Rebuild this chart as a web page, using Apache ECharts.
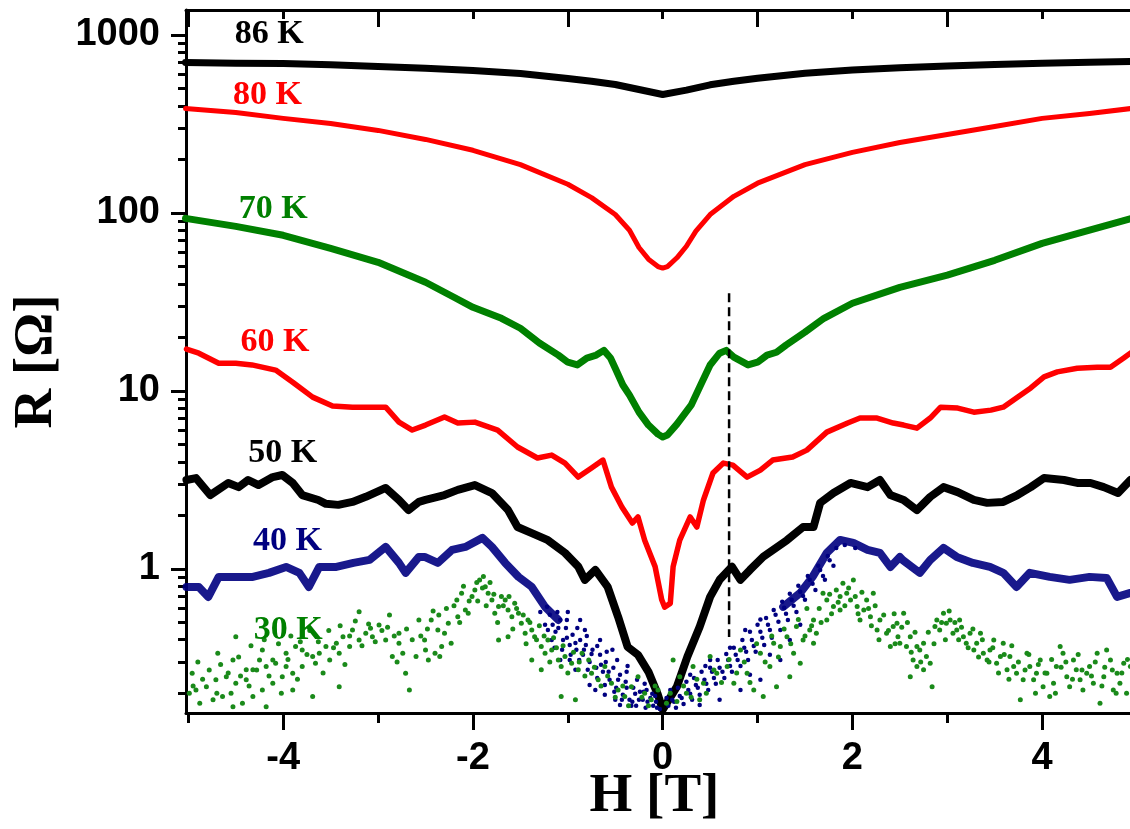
<!DOCTYPE html>
<html>
<head>
<meta charset="utf-8">
<script src="https://cdn.jsdelivr.net/npm/echarts@6/dist/echarts.min.js"></script>
<style>
html,body{margin:0;padding:0;background:#fff}
#chart{width:1130px;height:829px}
</style>
</head>
<body>
<div id="chart"></div>
<script>
// Magnetoresistance R(H) measured at fixed temperatures; pairs are [H (T), R (ohm)].
const sweep86K = [[-5.03,700],[-4.5,695],[-4,691],[-3.5,680],[-3,665],[-2.5,650],[-2,631],[-1.5,607],[-1,569],[-0.75,550],[-0.5,527],[-0.25,494],[0,463],[0.25,490],[0.5,525],[0.75,550],[1,572],[1.5,610],[2,635],[2.5,655],[3,670],[3.5,683],[4,694],[4.5,703],[5,712]];

const sweep80K = [[-5.03,386],[-4.5,367],[-4,340],[-3.5,318],[-3,291],[-2.5,259],[-2,225],[-1.5,187],[-1,145],[-0.75,122],[-0.5,98],[-0.35,80],[-0.25,64],[-0.15,55],[-0.05,50],[0,49],[0.05,50],[0.15,56],[0.25,65],[0.35,79],[0.5,98],[0.75,124],[1,147],[1.5,187],[2,219],[2.5,249],[3,276],[3.5,306],[4,340],[4.5,362],[5,390]];

const sweep70K = [[-5.03,93.3],[-4.5,84.1],[-4,74.9],[-3.5,63.3],[-3,52.8],[-2.5,40.8],[-2.2,33.6],[-2,29.5],[-1.7,25.6],[-1.5,22.5],[-1.3,18.6],[-1.1,15.9],[-1,14.5],[-0.9,14.0],[-0.8,15.3],[-0.7,15.9],[-0.62,16.9],[-0.55,15.3],[-0.5,13.4],[-0.42,10.8],[-0.35,9.47],[-0.25,7.6],[-0.15,6.43],[-0.05,5.72],[0,5.51],[0.05,5.65],[0.15,6.51],[0.3,8.32],[0.4,10.8],[0.5,14.0],[0.6,16.3],[0.67,16.9],[0.75,15.5],[0.9,14.0],[1,14.5],[1.1,15.9],[1.2,16.5],[1.3,18.1],[1.5,21.4],[1.7,25.6],[2,31.1],[2.5,38.2],[3,44.7],[3.5,54.2],[4,67.5],[4.5,80],[5,95]];

const sweep60K = [[-5.02,17.2],[-4.89,16.3],[-4.68,14.3],[-4.5,14.3],[-4.33,14.0],[-4.08,13.1],[-3.9,11.2],[-3.69,9.23],[-3.48,8.22],[-3.27,8.11],[-3.06,8.11],[-2.92,8.11],[-2.78,6.68],[-2.64,6.03],[-2.5,6.43],[-2.3,7.13],[-2.16,6.6],[-1.98,6.68],[-1.74,6.03],[-1.53,4.84],[-1.32,4.2],[-1.17,4.36],[-1.03,3.93],[-0.89,3.28],[-0.75,3.69],[-0.63,4.09],[-0.54,2.88],[-0.43,2.23],[-0.32,1.81],[-0.26,1.96],[-0.19,1.45],[-0.08,1.03],[-0.01,0.67],[0.02,0.61],[0.08,0.64],[0.11,1.03],[0.18,1.45],[0.29,1.96],[0.36,1.72],[0.43,2.44],[0.53,3.46],[0.64,3.93],[0.74,3.83],[0.89,3.28],[1.03,3.59],[1.16,4.09],[1.37,4.25],[1.52,4.65],[1.73,5.87],[1.95,6.6],[2.08,7.04],[2.26,7.04],[2.43,6.6],[2.54,6.43],[2.68,6.18],[2.82,7.04],[2.93,8.11],[3.11,8.01],[3.28,7.6],[3.46,7.8],[3.59,8.11],[3.74,9.23],[3.88,10.4],[4.02,12.0],[4.16,12.8],[4.37,13.4],[4.58,13.6],[4.72,13.6],[4.86,15.3],[4.93,16.3]];

const sweep50K = [[-5.02,3.16],[-4.92,3.24],[-4.77,2.6],[-4.58,3.04],[-4.47,2.88],[-4.37,3.16],[-4.26,2.96],[-4.11,3.28],[-4.01,3.37],[-3.9,3.04],[-3.8,2.6],[-3.63,2.44],[-3.55,2.32],[-3.42,2.29],[-3.27,2.38],[-3.13,2.54],[-2.92,2.85],[-2.78,2.44],[-2.68,2.14],[-2.57,2.38],[-2.5,2.44],[-2.3,2.6],[-2.16,2.78],[-1.98,2.96],[-1.8,2.67],[-1.63,2.14],[-1.53,1.72],[-1.38,1.59],[-1.21,1.45],[-1.03,1.23],[-0.89,1.03],[-0.82,0.868],[-0.71,0.987],[-0.58,0.793],[-0.47,0.538],[-0.37,0.365],[-0.26,0.329],[-0.15,0.264],[-0.05,0.196],[0,0.162],[0.15,0.218],[0.26,0.321],[0.39,0.473],[0.5,0.696],[0.6,0.868],[0.73,1.03],[0.82,0.868],[0.92,0.987],[1.06,1.17],[1.31,1.45],[1.48,1.72],[1.59,1.72],[1.66,2.35],[1.8,2.67],[1.98,3.04],[2.16,2.88],[2.29,3.16],[2.4,2.6],[2.54,2.44],[2.68,2.14],[2.82,2.54],[2.96,2.88],[3.11,2.7],[3.28,2.44],[3.42,2.35],[3.59,2.38],[3.74,2.6],[3.88,2.88],[4.02,3.24],[4.23,3.16],[4.37,3.04],[4.51,3.04],[4.65,2.88],[4.8,2.67],[4.93,3.16]];

// 40 K: the two flanks are traced as bands, the low-field part is a cloud of points
const sweep40KNeg = [[-5.02,0.792],[-4.89,0.792],[-4.79,0.696],[-4.68,0.902],[-4.5,0.902],[-4.32,0.902],[-4.15,0.95],[-3.97,1.026],[-3.83,0.95],[-3.73,0.792],[-3.62,1.026],[-3.44,1.026],[-3.26,1.081],[-3.09,1.123],[-2.92,1.329],[-2.78,1.081],[-2.71,0.95],[-2.57,1.168],[-2.51,1.168],[-2.37,1.081],[-2.22,1.279],[-2.08,1.329],[-1.9,1.494],[-1.8,1.329],[-1.66,1.081],[-1.52,0.902],[-1.38,0.792],[-1.24,0.612],[-1.1,0.517]];
const sweep40KPos = [[1.27,0.612],[1.45,0.733],[1.58,0.902],[1.73,1.23],[1.87,1.455],[2.01,1.4],[2.16,1.279],[2.29,1.23],[2.4,1.026],[2.5,1.168],[2.53,1.123],[2.71,0.95],[2.82,1.123],[2.96,1.312],[3.1,1.168],[3.27,1.081],[3.45,1.026],[3.59,0.95],[3.73,0.792],[3.87,0.95],[4.08,0.902],[4.29,0.868],[4.5,0.902],[4.68,0.89],[4.79,0.696],[4.93,0.733]];
const points40K = [
[-1.19,0.552],[-1.16,0.485],[-1.13,0.443],[-1.08,0.517],[-1.05,0.399],[-1.02,0.466],[-0.98,0.374],[-0.95,0.426],[-0.91,0.351],[-0.87,0.399],
[-0.84,0.329],[-0.81,0.374],[-0.77,0.3],[-0.74,0.351],[-0.7,0.278],[-0.66,0.329],[-0.63,0.264],[-0.6,0.3],[-0.56,0.238],[-0.52,0.278],
[-0.49,0.215],[-0.45,0.254],[-0.42,0.196],[-0.39,0.232],[-0.35,0.184],[-0.31,0.215],[-0.28,0.17],[-0.24,0.204],[-0.21,0.184],[-0.18,0.166],
[-0.13,0.188],[-0.1,0.17],[-0.07,0.179],[-0.03,0.163],[-1.08,0.308],[-0.92,0.271],[-0.77,0.223],[-0.61,0.196],[-0.45,0.172],[-0.82,0.454],
[-0.66,0.399],[-1.24,0.485],[-1.29,0.573],[-1.0,0.573],[-0.87,0.517],[-0.53,0.351],[-0.37,0.285],[-0.19,0.226],[-0.5,0.184],[-0.71,0.209],
[-0.32,0.179],[-1.14,0.36],[-0.98,0.308],
[-1.21,0.454],[-1.17,0.399],[-1.1,0.466],[-1.06,0.351],[-1.01,0.41],[-0.97,0.329],[-0.92,0.384],[-0.88,0.308],[-0.83,0.351],[-0.79,0.271],
[-0.75,0.333],[-0.69,0.244],[-0.65,0.289],[-0.61,0.223],[-0.57,0.264],[-0.51,0.204],[-0.47,0.238],[-0.43,0.184],[-0.38,0.215],[-0.33,0.17],
[-0.29,0.199],[-0.25,0.184],[-0.2,0.204],[-0.16,0.179],[-0.11,0.199],[-0.06,0.166],[-1.22,0.612],[-1.11,0.573],[-1.01,0.517],[-0.9,0.466],
[-0.8,0.42],[-0.69,0.369],[-0.59,0.342],[-0.48,0.308],[-0.38,0.264],[-0.27,0.238],[-0.17,0.209],[-0.08,0.193],
[0.06,0.17],[0.1,0.184],[0.14,0.166],[0.18,0.193],[0.22,0.174],[0.27,0.209],[0.31,0.184],[0.35,0.223],[0.39,0.196],[0.44,0.238],
[0.48,0.209],[0.52,0.264],[0.56,0.226],[0.6,0.278],[0.65,0.244],[0.69,0.308],[0.73,0.264],[0.77,0.329],[0.82,0.285],[0.86,0.36],
[0.9,0.308],[0.94,0.399],[0.98,0.342],[1.03,0.443],[1.07,0.374],[1.11,0.485],[1.15,0.41],[1.19,0.552],[1.24,0.454],[1.28,0.604],
[1.32,0.517],[1.36,0.67],[1.41,0.573],[1.45,0.743],[1.5,0.67],[1.55,0.868],[1.61,0.762],[1.66,0.987],[1.71,0.868],[1.76,1.12],
[0.39,0.172],[0.6,0.184],[0.82,0.209],[1.03,0.238],[1.24,0.308],[0.5,0.308],[0.71,0.36],[0.92,0.254],[1.13,0.329],[1.34,0.399],
[1.45,0.485],[0.29,0.254],[0.45,0.285],[1.03,0.52],[0.87,0.454],
[0.04,0.188],[0.08,0.209],[0.12,0.179],[0.16,0.215],[0.2,0.188],[0.25,0.232],[0.29,0.199],[0.33,0.244],[0.37,0.215],[0.41,0.264],
[0.46,0.226],[0.5,0.278],[0.54,0.244],[0.58,0.308],[0.63,0.264],[0.67,0.333],[0.71,0.285],[0.75,0.36],[0.79,0.308],[0.84,0.399],
[0.88,0.342],[0.92,0.443],[0.96,0.369],[1.0,0.485],[1.05,0.41],[1.09,0.53],[1.13,0.454],[1.17,0.588],[1.22,0.504],[1.26,0.653],
[1.3,0.559],[1.34,0.724],[1.38,0.62],[1.43,0.803],[1.48,0.705],[1.53,0.913],[1.58,0.824],[1.64,1.04],[1.69,0.913],[1.74,1.183],
[1.8,1.04],[1.83,1.312],[1.92,1.364],[2.03,1.312]
];

const points30K = [
[-3.2,0.575],[-2.88,0.551],[-2.99,0.484],[-3.08,0.464],[-3.13,0.435],[-3.27,0.454],[-3.37,0.416],[-3.44,0.382],[-3.55,0.366],[-3.62,0.336],
[-3.69,0.322],[-3.8,0.35],[-3.87,0.366],[-3.97,0.336],[-4.08,0.295],[-4.18,0.283],[-4.25,0.308],[-4.32,0.271],[-4.39,0.238],[-4.5,0.228],
[-4.6,0.248],[-4.71,0.238],[-4.81,0.218],[-4.92,0.209],[-4.99,0.2],[-4.88,0.176],[-4.74,0.184],[-4.64,0.192],[-4.53,0.168],[-4.43,0.176],
[-4.32,0.192],[-4.22,0.209],[-4.11,0.228],[-4.01,0.248],[-3.9,0.259],[-3.8,0.283],[-3.66,0.295],[-3.51,0.308],[-3.41,0.336],[-3.3,0.366],
[-3.2,0.399],[-3.06,0.416],[-2.92,0.399],[-2.78,0.382],[-2.71,0.259],[-2.67,0.209],[-2.78,0.435],[-2.57,0.517],[-2.5,0.35],[-2.6,0.322],
[-2.74,0.336],[-2.85,0.322],[-3.41,0.218],[-3.69,0.192],[-3.9,0.209],[-4.18,0.168],[-4.96,0.259],[-4.69,0.336],[-4.5,0.416],[-4.22,0.35],
[-4.11,0.308],[-3.97,0.283],[-4.39,0.271],[-4.53,0.308],
[-4.95,0.22],[-4.9,0.3],[-4.85,0.24],[-4.78,0.27],[-4.7,0.2],[-4.66,0.29],[-4.58,0.26],[-4.55,0.2],[-4.47,0.32],[-4.45,0.25],
[-4.36,0.22],[-4.34,0.37],[-4.28,0.27],[-4.2,0.4],[-4.15,0.25],[-4.05,0.38],[-4.02,0.2],[-3.95,0.31],[-3.92,0.42],[-3.85,0.24],
[-3.82,0.39],[-3.75,0.33],[-3.72,0.45],[-3.63,0.39],[-3.58,0.26],[-3.52,0.45],[-3.47,0.36],[-3.4,0.48],[-3.35,0.29],[-3.3,0.42],
[-3.24,0.51],[-3.17,0.37],[-3.1,0.49],[-3.03,0.39],[-2.96,0.45],[-2.9,0.47],[-2.83,0.42],[-2.8,0.3],[-2.7,0.46],[-2.64,0.4],
[-2.55,0.42],[-2.48,0.46],
[-2.51,0.399],[-2.44,0.517],[-2.37,0.454],[-2.3,0.435],[-2.26,0.495],[-2.33,0.366],[-2.4,0.336],[-2.47,0.308],[-2.35,0.322],[-2.23,0.382],
[-2.16,0.539],[-2.17,0.669],[-2.12,0.73],[-2.08,0.588],[-2.05,0.563],[-2.01,0.699],[-1.98,0.762],[-1.93,0.867],[-1.89,0.905],[-1.87,0.795],
[-1.84,0.73],[-1.8,0.669],[-1.77,0.563],[-1.73,0.614],[-1.7,0.699],[-1.66,0.669],[-1.63,0.588],[-1.59,0.539],[-1.56,0.641],[-1.52,0.563],
[-1.49,0.495],[-1.45,0.435],[-1.42,0.517],[-1.38,0.454],[-1.35,0.416],[-1.28,0.366],[-1.24,0.336],[-1.21,0.399],[-1.17,0.35],[-1.1,0.308],
[-1.07,0.283],[-1.03,0.322],[-0.96,0.295],[-0.89,0.271],[-0.85,0.336],[-0.78,0.308],[-0.75,0.259],[-0.68,0.238],[-0.61,0.283],[-0.54,0.228],
[-0.47,0.209],[-0.4,0.192],[-0.33,0.218],[-0.26,0.248],[-0.19,0.2],[-0.12,0.184],[-0.05,0.209],[-1.07,0.192],[-0.92,0.184],[-1.38,0.308],
[-1.28,0.271],[-1.63,0.416],[-1.73,0.399],
[-2.42,0.58],[-2.36,0.55],[-2.28,0.6],[-2.2,0.62],[-2.14,0.5],[-2.1,0.8],[-2.04,0.66],[-1.96,0.84],[-1.95,0.66],[-1.9,0.78],
[-1.86,0.62],[-1.82,0.84],[-1.78,0.72],[-1.74,0.5],[-1.68,0.62],[-1.62,0.7],[-1.58,0.46],[-1.54,0.6],[-1.47,0.55],[-1.44,0.38],
[-1.4,0.5],[-1.33,0.4],[-1.3,0.48],[-1.25,0.42],[-1.19,0.3],[-1.15,0.41],[-1.12,0.36],[-1.05,0.37],[-1.0,0.26],[-0.94,0.34],
[-0.88,0.3],[-0.82,0.25],[-0.72,0.28],[-0.65,0.22],[-0.58,0.25],[-0.5,0.19],[-0.42,0.22],[-0.36,0.17],[-0.22,0.19],[-0.15,0.17],
[-0.08,0.22],
[0.11,0.308],[0.18,0.248],[0.32,0.283],[0.43,0.228],[0.5,0.322],[0.57,0.259],[0.68,0.283],[0.75,0.228],[0.82,0.35],[0.89,0.259],
[0.96,0.209],[1.03,0.336],[1.06,0.192],[1.13,0.283],[1.17,0.382],[1.24,0.366],[1.31,0.416],[1.38,0.336],[1.41,0.474],[1.48,0.399],
[1.55,0.454],[1.59,0.517],[1.62,0.435],[1.69,0.73],[1.73,0.669],[1.8,0.614],[1.83,0.762],[1.87,0.699],[1.9,0.83],[1.94,0.73],
[1.98,0.669],[2.01,0.867],[2.05,0.614],[2.08,0.517],[2.12,0.588],[2.15,0.669],[2.19,0.539],[2.22,0.73],[2.26,0.454],[2.29,0.517],
[2.36,0.435],[2.4,0.366],[2.43,0.474],[2.48,0.416],[1.87,0.588],[1.73,0.517],[1.59,0.382],[1.45,0.295],[1.34,0.248],[1.2,0.218],
[0.39,0.184],[0.25,0.2],[0.04,0.176],
[0.08,0.2],[0.15,0.18],[0.22,0.22],[0.3,0.19],[0.36,0.24],[0.46,0.2],[0.54,0.27],[0.62,0.23],[0.7,0.31],[0.78,0.26],
[0.86,0.3],[0.92,0.23],[0.99,0.38],[1.08,0.3],[1.15,0.42],[1.22,0.32],[1.28,0.46],[1.35,0.38],[1.43,0.52],[1.5,0.42],
[1.52,0.6],[1.57,0.48],[1.65,0.6],[1.67,0.5],[1.76,0.72],[1.78,0.56],[1.85,0.65],[1.92,0.62],[1.96,0.78],[2.03,0.7],
[2.06,0.56],[2.1,0.74],[2.17,0.6],[2.2,0.48],[2.24,0.62],[2.28,0.4],[2.33,0.55],[2.38,0.45],[2.44,0.56],[2.45,0.38],
[2.47,0.495],[2.54,0.563],[2.5,0.382],[2.57,0.366],[2.61,0.416],[2.64,0.308],[2.68,0.366],[2.71,0.35],[2.75,0.382],[2.78,0.322],
[2.82,0.295],[2.84,0.218],[2.75,0.271],[2.68,0.283],[2.61,0.248],[2.87,0.474],[2.89,0.517],[2.92,0.454],[2.96,0.563],[2.99,0.495],
[3.03,0.517],[3.06,0.435],[3.1,0.454],[3.13,0.517],[3.17,0.416],[3.2,0.382],[3.24,0.435],[3.28,0.35],[3.31,0.382],[3.35,0.435],
[3.38,0.336],[3.42,0.308],[3.45,0.35],[3.49,0.399],[3.52,0.295],[3.56,0.322],[3.59,0.382],[3.63,0.271],[3.66,0.322],[3.7,0.283],
[3.73,0.259],[3.77,0.184],[3.8,0.238],[3.84,0.336],[3.87,0.283],[3.91,0.238],[3.94,0.259],[3.98,0.308],[4.01,0.218],[4.05,0.259],
[4.08,0.192],[4.12,0.228],[4.15,0.283],[4.19,0.366],[4.22,0.336],[4.26,0.248],[4.29,0.218],[4.33,0.308],[4.36,0.271],[4.4,0.238],
[4.43,0.209],[4.47,0.259],[4.5,0.283],[4.54,0.228],[4.58,0.336],[4.61,0.176],[4.65,0.248],[4.68,0.35],[4.72,0.308],[4.75,0.209],
[4.79,0.259],[4.82,0.228],[4.86,0.295],[4.89,0.2],[4.93,0.283],
[2.52,0.47],[2.58,0.5],[2.62,0.34],[2.66,0.44],[2.72,0.3],[2.8,0.44],[2.86,0.38],[2.94,0.5],[2.98,0.4],[3.02,0.58],
[3.08,0.5],[3.12,0.4],[3.15,0.47],[3.22,0.36],[3.27,0.46],[3.33,0.32],[3.37,0.4],[3.44,0.3],[3.48,0.36],[3.54,0.26],
[3.6,0.33],[3.65,0.24],[3.68,0.37],[3.75,0.3],[3.82,0.27],[3.86,0.33],[3.93,0.2],[3.96,0.29],[4.03,0.26],[4.1,0.31],
[4.14,0.2],[4.2,0.28],[4.25,0.3],[4.32,0.24],[4.38,0.33],[4.42,0.27],[4.52,0.25],[4.56,0.3],[4.63,0.22],[4.66,0.28],
[4.74,0.27],[4.78,0.2],[4.84,0.26],[4.9,0.31]
];

// Curve captions: [H, R] anchor of each caption's left edge
const captionText = ['86 K', '80 K', '70 K', '60 K', '50 K', '40 K', '30 K'];
const captionColor = ['#000000', '#ff0000', '#008000', '#ff0000', '#000000', '#000080', '#008000'];
const captionAt = [[-4.51,1012],[-4.53,457],[-4.47,105.5],[-4.45,18.9],[-4.37,4.45],[-4.32,1.43],[-4.31,0.452]];

// Vertical dashed guide
const guideLine = [[0.70,35.4],[0.70,0.415]];

// Axis ranges and tick positions
const hRange = [-5.025, 5.0];
const rRange = [0.155, 1382];
const hMajorTicks = [-4, -2, 0, 2, 4];
const hMinorTicks = [-5, -3, -1, 1, 3, 5];
const hTopLongTicks = [-5, -3, -1, 1, 3, 5];
const hTopShortTicks = [-4, -2, 0, 2, 4];
const rMajorTicks = [1, 10, 100, 1000];
const rMinorTicks = [0.2,0.3,0.4,0.5,0.6,0.7,0.8,0.9,2,3,4,5,6,7,8,9,20,30,40,50,60,70,80,90,200,300,400,500,600,700,800,900];

const chart = echarts.init(document.getElementById('chart'), null, {renderer: 'canvas'});

const tickFont = {fontFamily: 'Liberation Sans, Arial, sans-serif', fontWeight: 'bold', fontSize: 38, color: '#000'};
const titleFont = {fontFamily: 'Liberation Serif, Times New Roman, serif', fontWeight: 'bold', fontSize: 55, color: '#000'};
const black = '#000';

function lineSeries(data, color, width, opacity) {
  return {
    type: 'line', data: data, showSymbol: false, symbol: 'none', smooth: false,
    lineStyle: {color: color, width: width, opacity: opacity == null ? 1 : opacity, cap: 'round', join: 'round'},
    itemStyle: {color: color}, z: 3, silent: true, animation: false
  };
}
function dotSeries(data, color, size) {
  return {
    type: 'scatter', data: data, symbol: 'circle', symbolSize: size,
    itemStyle: {color: color, opacity: 1}, z: 3, silent: true, animation: false
  };
}
// Tick-only axis sharing the H range
function hTickAxis(position, values, length, inside) {
  return {
    type: 'value', position: position, min: hRange[0], max: hRange[1],
    axisLine: {show: false, onZero: false},
    axisTick: {show: true, inside: inside, customValues: values, length: length, lineStyle: {color: black, width: 3}},
    axisLabel: {show: false}, splitLine: {show: false}
  };
}

const option = {
  backgroundColor: '#fff',
  animation: false,
  grid: {left: 186, right: -7, top: 10, bottom: 116, containLabel: false, outerBoundsMode: 'none'},
  xAxis: [
    {
      type: 'value', position: 'bottom', min: hRange[0], max: hRange[1],
      axisLine: {show: true, onZero: false, lineStyle: {color: black, width: 3}},
      axisTick: {show: true, customValues: hMajorTicks, length: 17, lineStyle: {color: black, width: 3}},
      axisLabel: Object.assign({show: true, customValues: hMajorTicks, margin: 27, formatter: v => String(Math.round(v))}, tickFont),
      splitLine: {show: false},
      name: 'H [T]', nameLocation: 'middle', nameGap: 56, nameMoveOverlap: false,
      nameTextStyle: Object.assign({padding: [0, 14, 0, 0]}, titleFont)
    },
    hTickAxis('bottom', hMinorTicks, 10, false),
    {
      type: 'value', position: 'top', min: hRange[0], max: hRange[1],
      axisLine: {show: true, onZero: false, lineStyle: {color: black, width: 3}},
      axisTick: {show: true, inside: true, customValues: hTopLongTicks, length: 17, lineStyle: {color: black, width: 3}},
      axisLabel: {show: false}, splitLine: {show: false}
    },
    hTickAxis('top', hTopShortTicks, 9, true)
  ],
  yAxis: [
    {
      type: 'log', logBase: 10, position: 'left', min: rRange[0], max: rRange[1],
      axisLine: {show: true, onZero: false, lineStyle: {color: black, width: 3}},
      axisTick: {show: true, customValues: rMajorTicks, length: 15, lineStyle: {color: black, width: 3}},
      axisLabel: Object.assign({show: true, customValues: rMajorTicks, margin: 26, formatter: v => String(Math.round(v))}, tickFont),
      splitLine: {show: false},
      name: 'R [Ω]', nameLocation: 'middle', nameGap: 120, nameRotate: 90,
      nameTextStyle: titleFont
    },
    {
      type: 'log', logBase: 10, position: 'left', min: rRange[0], max: rRange[1],
      axisLine: {show: false, onZero: false},
      axisTick: {show: true, customValues: rMinorTicks, length: 8, lineStyle: {color: black, width: 3}},
      axisLabel: {show: false}, splitLine: {show: false}
    }
  ],
  series: [
    lineSeries(sweep40KNeg, '#000080', 8, 0.9),
    lineSeries(sweep40KPos, '#000080', 8, 0.9),
    dotSeries(points40K, '#000080', 4.5),
    dotSeries(points30K, '#1a8a1a', 5),
    lineSeries(sweep50K, '#000000', 8),
    lineSeries(sweep60K, '#ff0000', 5.5),
    lineSeries(sweep70K, '#008000', 7),
    lineSeries(sweep80K, '#ff0000', 5),
    lineSeries(sweep86K, '#000000', 7),
    {
      type: 'line', data: guideLine, symbol: 'none', silent: true, animation: false,
      lineStyle: {color: black, width: 2.5, type: [9, 5]}, z: 4
    },
    {
      type: 'scatter', symbolSize: 0, silent: true, animation: false, z: 5,
      itemStyle: {opacity: 1},
      data: captionAt.map((p, i) => ({value: p, name: captionText[i], label: {color: captionColor[i]}})),
      label: {
        show: true, position: 'right', distance: 0, formatter: p => p.name,
        textBorderWidth: 0, opacity: 1,
        fontFamily: 'Liberation Serif, Times New Roman, serif', fontWeight: 'bold', fontSize: 34
      }
    }
  ]
};

chart.setOption(option);
</script>
</body>
</html>
